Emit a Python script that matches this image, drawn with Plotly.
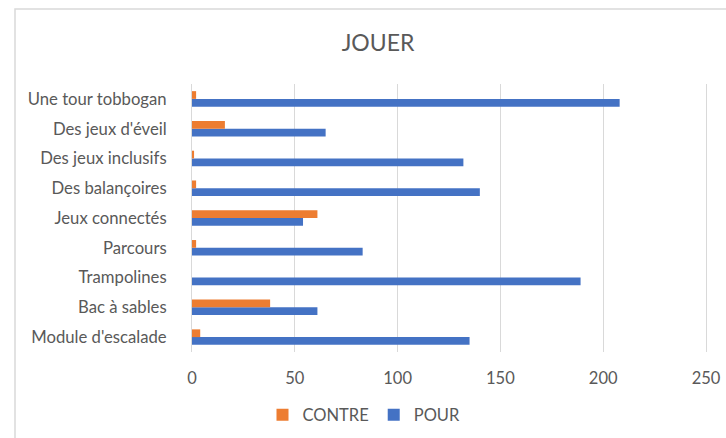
import plotly.graph_objects as go

categories = ["Module d'escalade", "Bac à sables", "Trampolines", "Parcours",
              "Jeux connectés", "Des balançoires", "Des jeux inclusifs",
              "Des jeux d'éveil", "Une tour tobbogan"]
pour = [135, 61, 189, 83, 54, 140, 132, 65, 208]
contre = [4, 38, 0, 2, 61, 2, 1, 16, 2]
x_ticks = [0, 50, 100, 150, 200, 250]

W, H = 726, 438
TEXT = "#595959"
FONT = "Lato"

fig = go.Figure()
fig.add_trace(go.Bar(y=categories, x=pour, name="POUR", orientation="h",
                     marker=dict(color="#4472C4", line=dict(width=0))))
fig.add_trace(go.Bar(y=categories, x=contre, name="CONTRE", orientation="h",
                     marker=dict(color="#ED7D31", line=dict(width=0))))

fig.update_layout(
    width=W, height=H,
    paper_bgcolor="white", plot_bgcolor="white",
    margin=dict(l=192, r=20, t=84, b=86, autoexpand=False),
    barmode="group", bargap=0.48, bargroupgap=0,
    title=dict(text="JOUER", x=378 / W, xanchor="center", y=(H - 43) / H,
               yanchor="middle", xref="container", yref="container",
               font=dict(family=FONT, size=23, color=TEXT)),
    font=dict(family=FONT, size=16, color=TEXT),
    showlegend=True,
    legend=dict(orientation="h", traceorder="reversed", xref="container",
                yref="container", x=364 / W, xanchor="center",
                y=(H - 415) / H, yanchor="middle",
                font=dict(family=FONT, size=16.5, color=TEXT),
                itemwidth=30, itemsizing="constant"),
    xaxis=dict(range=[0, 250], tickvals=x_ticks, showgrid=True,
               gridcolor="#D9D9D9", gridwidth=1, zeroline=False,
               showline=False, ticks="", ticklabelstandoff=14,
               tickfont=dict(family=FONT, size=16.5, color=TEXT)),
    yaxis=dict(showgrid=False, zeroline=False, showline=True, mirror=True,
               linecolor="#D9D9D9", linewidth=1, ticks="",
               ticklabelstandoff=21,
               tickfont=dict(family=FONT, size=16.7, color=TEXT)),
    shapes=[dict(type="rect", xref="paper", yref="paper",
                 x0=(15 - 192) / (W - 192 - 20), x1=1.2,
                 y0=-0.5, y1=1 + (84 - 9) / (H - 84 - 86),
                 line=dict(color="#D9D9D9", width=1.5),
                 fillcolor="rgba(0,0,0,0)", layer="below")],
)

fig.write_html(
    "out.html",
    config={"displayModeBar": False},
    post_script="document.body.style.margin='0';document.body.style.overflow='hidden';",
)
